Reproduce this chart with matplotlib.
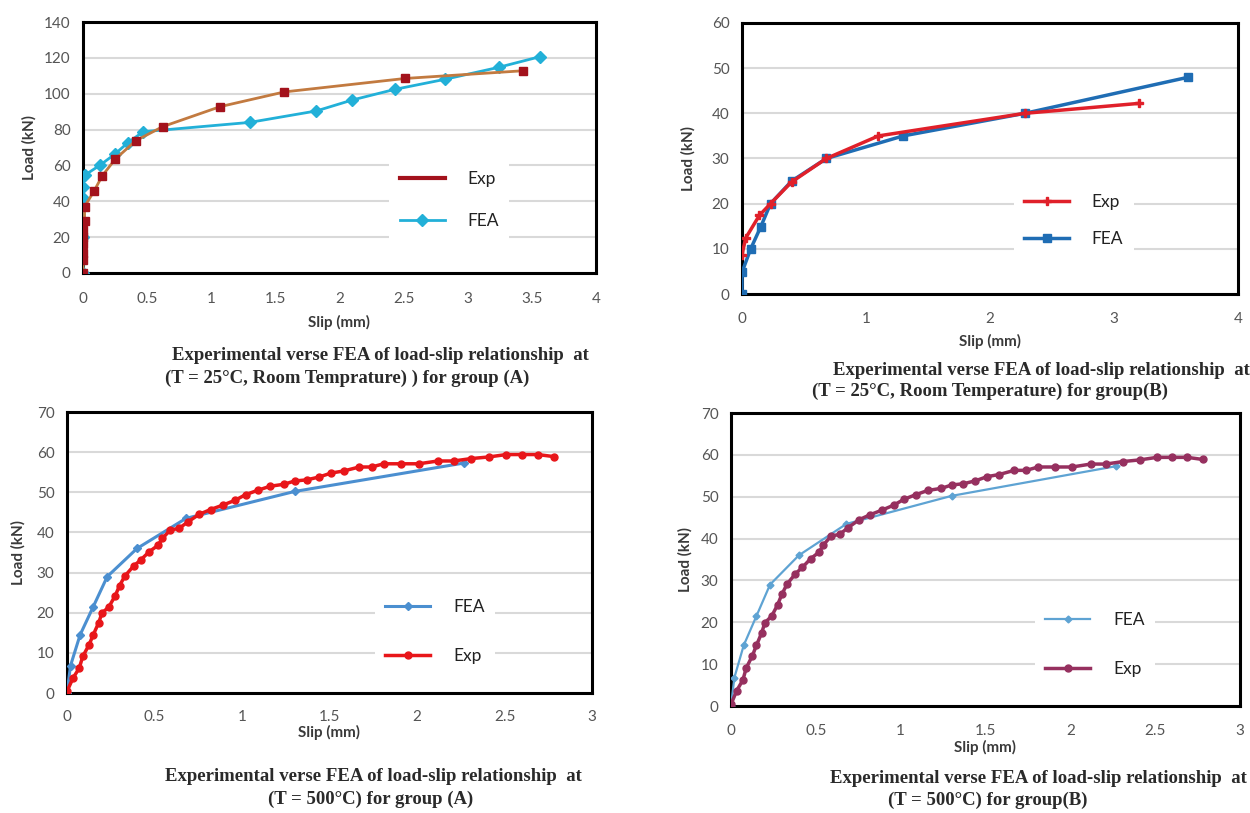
import numpy as np
import matplotlib.pyplot as plt
from matplotlib.lines import Line2D

# ---- data ----
# group A, 25 C
a_exp_slip = [0, 0, 0, 0, 0, 0, 0.012, 0.012, 0.087, 0.15, 0.25, 0.41, 0.62, 1.07, 1.57, 2.51, 3.43]
a_exp_load = [0, 7, 11, 16, 20, 24, 29, 37, 45.8, 54.2, 63.4, 73.7, 81.6, 92.8, 101, 108.5, 112.8]
a_fea_slip = [0, 0, 0, 0, 0.016, 0.13, 0.25, 0.35, 0.47, 1.30, 1.82, 2.10, 2.43, 2.82, 3.24, 3.56]
a_fea_load = [0, 20, 41.7, 48.2, 54.7, 60, 66.4, 72.7, 78.8, 84, 90.4, 96.5, 102.4, 108, 114.7, 120.6]

# group B, 25 C
b_exp_slip = [0, 0.03, 0.14, 0.23, 0.40, 0.68, 1.10, 2.28, 3.2]
b_exp_load = [8.7, 12.4, 17.4, 20, 24.8, 30, 35, 40, 42.2]
b_fea_slip = [0, 0, 0.07, 0.15, 0.23, 0.40, 0.68, 1.30, 2.28, 3.6]
b_fea_load = [0, 4.8, 10, 14.8, 20, 25, 30, 35, 40, 48]

# 500 C (same curves in group A and group B panels)
hot_fea_slip = [0, 0.02, 0.075, 0.15, 0.23, 0.40, 0.68, 1.30, 2.27]
hot_fea_load = [0, 6.8, 14.5, 21.5, 29, 36, 43.5, 50.2, 57.3]
hot_exp_slip = [0, 0.034, 0.07, 0.09, 0.126, 0.15, 0.18, 0.2, 0.24, 0.275, 0.3, 0.33,
                0.38, 0.42, 0.47, 0.52, 0.545, 0.59, 0.64, 0.69, 0.755, 0.82, 0.89,
                0.96, 1.02, 1.09, 1.16, 1.24, 1.30, 1.37, 1.44, 1.51, 1.58, 1.67,
                1.74, 1.81, 1.91, 2.01, 2.12, 2.21, 2.31, 2.41, 2.51, 2.60, 2.69, 2.78]
hot_exp_load = [0.4, 3.7, 6.2, 9.1, 12, 14.5, 17.4, 19.9, 21.5, 24.2, 26.7, 29.1,
                31.6, 33.1, 35.2, 36.8, 38.5, 40.6, 41, 42.6, 44.5, 45.7, 46.8,
                48, 49.4, 50.5, 51.5, 52, 52.8, 53.1, 53.8, 54.8, 55.3, 56.3,
                56.3, 57.1, 57.1, 57.1, 57.8, 57.8, 58.4, 58.8, 59.4, 59.4, 59.4, 58.9]

captions = [
    ["Experimental verse FEA of load-slip relationship  at", "(T = 25°C, Room Temprature) ) for group (A)"],
    ["Experimental verse FEA of load-slip relationship  at", "(T = 25°C, Room Temperature) for group(B)"],
    ["Experimental verse FEA of load-slip relationship  at", "(T = 500°C) for group (A)"],
    ["Experimental verse FEA of load-slip relationship  at", "(T = 500°C) for group(B)"],
]

W, H = 1250, 813
plt.rcParams['font.family'] = ['Lato', 'DejaVu Sans']
fig = plt.figure(figsize=(W / 100, H / 100), dpi=100)


def make_axes(x0, x1, y0, y1):
    # pixel box (left, right, top, bottom) -> figure coords
    return fig.add_axes([x0 / W, 1 - y1 / H, (x1 - x0) / W, (y1 - y0) / H])


def style(ax, xmax, xstep, ymax, ystep, xpad, ypad, xlp, ylp):
    ax.set_xlim(0, xmax)
    ax.set_ylim(0, ymax)
    ax.set_xticks(np.arange(0, xmax + 1e-9, xstep))
    ax.set_yticks(np.arange(0, ymax + 1e-9, ystep))
    ax.set_xticklabels([f"{v:g}" for v in np.arange(0, xmax + 1e-9, xstep)])
    ax.grid(axis='y', color='#d9d9d9', lw=1.5)
    ax.set_axisbelow(True)
    for s in ax.spines.values():
        s.set_color('black')
        s.set_linewidth(2.2)
    ax.tick_params(length=0, labelsize=11, colors='#555555')
    ax.tick_params(axis='x', pad=xpad)
    ax.tick_params(axis='y', pad=ypad)
    ax.set_xlabel('Slip (mm)', fontsize=11, fontweight='bold', color='#3a3a3a', labelpad=xlp)
    ax.set_ylabel('Load (kN)', fontsize=11, fontweight='bold', color='#3a3a3a', labelpad=ylp)


def legend(ax, handles, labels, x, y, spacing):
    lg = ax.legend(handles, labels, loc='center left', bbox_to_anchor=(x, y),
                   fontsize=12.5, handlelength=2.6, handletextpad=1.3, labelspacing=spacing,
                   frameon=True, facecolor='white', edgecolor='none', framealpha=1,
                   borderpad=0.6, fancybox=False)
    for t in lg.get_texts():
        t.set_color('#222222')


def caption(lines, x1, y1, x2, y2):
    fig.text(x1 / W, 1 - y1 / H, lines[0], fontsize=13.5, family='Liberation Serif',
             fontweight='bold', ha='left', va='center', color='#2a2a2a')
    fig.text(x2 / W, 1 - y2 / H, lines[1], fontsize=13.5, family='Liberation Serif',
             fontweight='bold', ha='left', va='center', color='#2a2a2a')


# ---- panel A ----
ax = make_axes(83, 596, 22, 273)
style(ax, 4, 0.5, 140, 20, 14, 9, 6, 5)
ax.plot(a_fea_slip, a_fea_load, color='#22b0d8', lw=2, marker='D', ms=6, zorder=3)
ax.plot(a_exp_slip, a_exp_load, color='#c27a40', lw=2, marker='s', ms=6,
        mfc='#a3121c', mec='#a3121c', zorder=4)
legend(ax, [Line2D([], [], color='#a3121c', lw=3),
            Line2D([], [], color='#22b0d8', lw=2, marker='D', ms=6)],
       ['Exp', 'FEA'], 0.58, 0.29, 1.5)
caption(captions[0], 172, 355, 165, 378)

# ---- panel B ----
ax = make_axes(742, 1238, 23, 294)
style(ax, 4, 1, 60, 10, 13, 9, 6, 12)
ax.plot(b_fea_slip, b_fea_load, color='#1f6db4', lw=2.5, marker='s', ms=6, zorder=3)
ax.plot(b_exp_slip, b_exp_load, color='#e0202a', lw=2.5, marker='P', ms=6, zorder=4)
legend(ax, [Line2D([], [], color='#e0202a', lw=2.5, marker='P', ms=6),
            Line2D([], [], color='#1f6db4', lw=2.5, marker='s', ms=6)],
       ['Exp', 'FEA'], 0.53, 0.27, 1.2)
caption(captions[1], 833, 370, 812, 391)

# ---- panel C ----
ax = make_axes(67, 592, 412, 693)
style(ax, 3, 0.5, 70, 10, 12, 9, 1, 8)
ax.plot(hot_fea_slip, hot_fea_load, color='#4b8fd0', lw=2.2, marker='D', ms=4, zorder=3)
ax.plot(hot_exp_slip, hot_exp_load, color='#e8161a', lw=2.5, marker='o', ms=5, zorder=4)
legend(ax, [Line2D([], [], color='#4b8fd0', lw=2.2, marker='D', ms=4),
            Line2D([], [], color='#e8161a', lw=2.5, marker='o', ms=5)],
       ['FEA', 'Exp'], 0.57, 0.22, 1.9)
caption(captions[2], 165, 776, 268, 799)

# ---- panel D ----
ax = make_axes(731, 1240, 413, 706)
style(ax, 3, 0.5, 70, 10, 13, 9, 1, 6)
ax.plot(hot_fea_slip, hot_fea_load, color='#5ea3d3', lw=1.6, marker='D', ms=3.5, zorder=3)
ax.plot(hot_exp_slip, hot_exp_load, color='#96305f', lw=2.5, marker='o', ms=5, zorder=4)
legend(ax, [Line2D([], [], color='#5ea3d3', lw=1.6, marker='D', ms=3.5),
            Line2D([], [], color='#96305f', lw=2.5, marker='o', ms=5)],
       ['FEA', 'Exp'], 0.58, 0.21, 1.9)
caption(captions[3], 830, 778, 888, 800)

fig.savefig('out.png', dpi=100)
